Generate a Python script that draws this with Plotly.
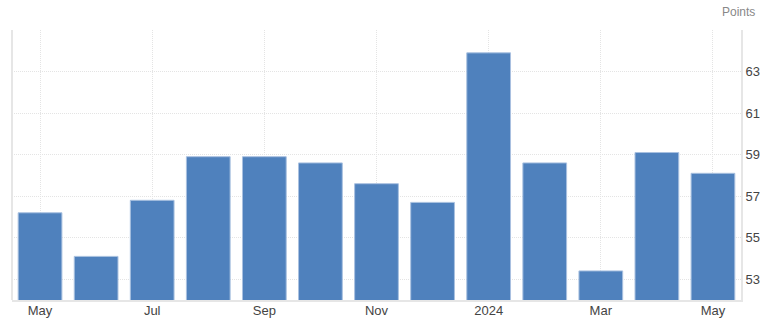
import plotly.graph_objects as go

months = ["May 2023", "Jun 2023", "Jul 2023", "Aug 2023", "Sep 2023", "Oct 2023",
          "Nov 2023", "Dec 2023", "Jan 2024", "Feb 2024", "Mar 2024", "Apr 2024", "May 2024"]
values = [56.2, 54.1, 56.8, 58.9, 58.9, 58.6, 57.6, 56.7, 63.9, 58.6, 53.4, 59.1, 58.1]
x_tick_labels = ["May", "Jul", "Sep", "Nov", "2024", "Mar", "May"]
y_ticks = [53, 55, 57, 59, 61, 63, 65]
y_tick_labels = ["53", "55", "57", "59", "61", "63", ""]

xs = list(range(len(months)))

fig = go.Figure()
fig.add_trace(go.Bar(
    x=xs, y=values,
    marker=dict(color="#4f81bd", line=dict(color="#a9c1e0", width=1)),
    hovertext=months,
))

fig.update_layout(
    width=768, height=328,
    margin=dict(l=12, r=27, t=30, b=28),
    paper_bgcolor="white", plot_bgcolor="white",
    bargap=0.22,
    showlegend=False,
    font=dict(family="Liberation Sans, Arial, sans-serif", size=13, color="#444444"),
    xaxis=dict(
        range=[-0.5, len(months) - 0.5],
        tickvals=xs[::2], ticktext=x_tick_labels,
        showgrid=True, gridcolor="#e4e4e4", griddash="1px,1px", gridwidth=1,
        showline=True, linecolor="#e6e6e6", linewidth=2,
        ticks="", zeroline=False, ticklabelstandoff=-3, automargin=False,
    ),
    yaxis=dict(
        range=[52, 65], side="right",
        tickvals=y_ticks, ticktext=y_tick_labels,
        showgrid=True, gridcolor="#e4e4e4", griddash="1px,1px", gridwidth=1,
        showline=True, linecolor="#e6e6e6", linewidth=2,
        ticks="", zeroline=False, automargin=False,
    ),
    shapes=[dict(type="line", xref="paper", yref="paper", x0=0, x1=0, y0=0, y1=1,
                 line=dict(color="#e6e6e6", width=2))],
    annotations=[dict(text="Points", xref="paper", yref="paper", x=1.022, y=1.0,
                      yshift=18, xanchor="right", yanchor="middle", showarrow=False,
                      font=dict(size=12, color="#888888"))],
)

fig.write_html("out.html")
